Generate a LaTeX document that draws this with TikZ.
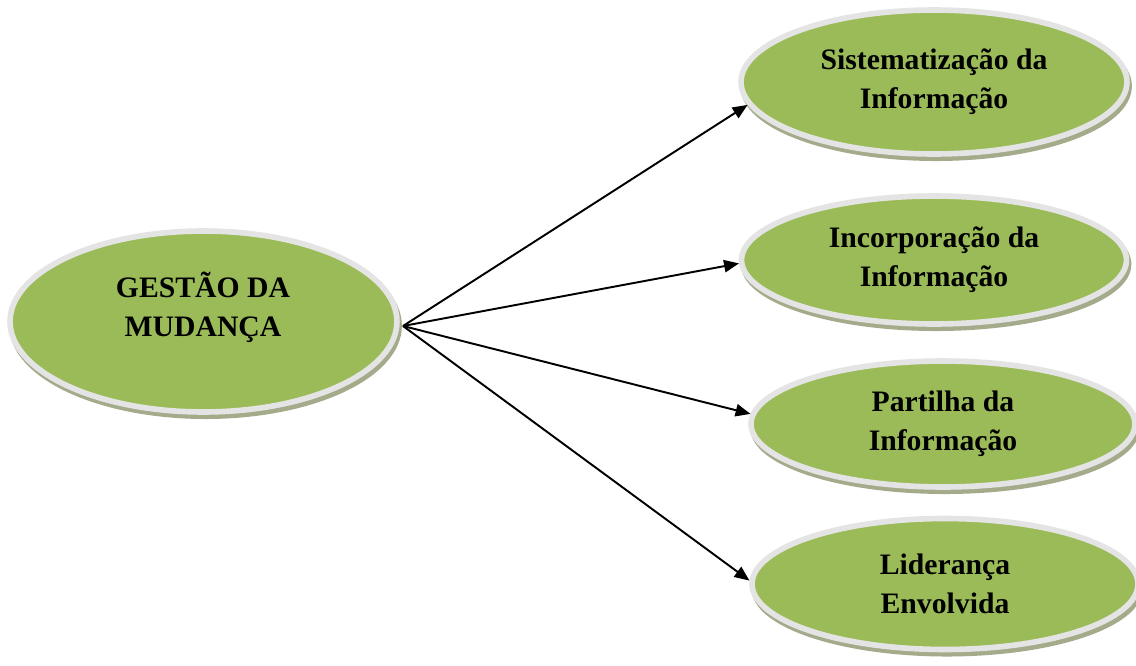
\documentclass[tikz,border=0pt]{standalone}
\usepackage{fontspec}
\setmainfont{Liberation Serif}
\usetikzlibrary{shapes.geometric,arrows.meta}
\definecolor{ellgreen}{HTML}{9BBB59}
\definecolor{ringgray}{HTML}{E4E4E4}
\definecolor{shadowc}{HTML}{A3AB8B}
\tikzset{
  ell/.style={ellipse, draw=ringgray, line width=3.2pt, fill=ellgreen, inner sep=0pt,
    preaction={draw=shadowc, fill=shadowc, line width=3.2pt, transform canvas={xshift=1.2pt,yshift=-2.4pt}},
    font=\fontsize{16.9}{22.1}\selectfont\bfseries, align=center},
  lbl/.style={font=\fontsize{16.9}{22.1}\selectfont\bfseries, align=center, inner sep=0pt},
  conn/.style={line width=1.1pt, -{Triangle[length=8.5pt,width=7pt]}}
}
\begin{document}
\begin{tikzpicture}[x=0.02cm,y=-0.02cm]
\useasboundingbox (0,0) rectangle (1136,666);
\node[ell, minimum width=7.74cm, minimum height=3.62cm] (m) at (203.5,321.5) {};
\node[lbl] (mt) at (203,307) {GESTÃO DA\\MUDANÇA};
\node[ell, minimum width=7.72cm, minimum height=2.88cm] (e1) at (934,82) {Sistematização da\\Informação};
\node[ell, minimum width=7.70cm, minimum height=2.56cm] (e2) at (934,260) {Incorporação da\\Informação};
\node[ell, minimum width=7.68cm, minimum height=2.52cm] (e3) at (943,424) {Partilha da\\Informação};
\node[ell, minimum width=7.72cm, minimum height=2.62cm] (e4) at (945,584) {Liderança\\Envolvida};
\coordinate (s) at (403,326);
\draw[conn] (s) -- (e1.187.6);
\draw[conn] (s) -- (e2.181.8);
\draw[conn] (s) -- (e3.177.3);
\draw[conn] (s) -- (e4.179.4);
\end{tikzpicture}
\end{document}
